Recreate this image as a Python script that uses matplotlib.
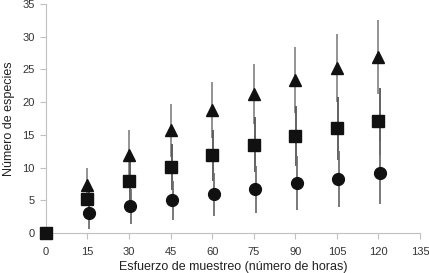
import numpy as np
import matplotlib
matplotlib.use("Agg")
import matplotlib.pyplot as plt

plt.rcParams['font.family'] = ['Liberation Sans', 'DejaVu Sans']

# ---------------------------------------------------------------------------
# Data
#
hours = [15, 30, 45, 60, 75, 90, 105, 120]
tri_mean = [7.4, 12.0, 15.7, 18.8, 21.3, 23.4, 25.3, 26.9]
tri_err = [2.5, 3.7, 4.1, 4.3, 4.6, 5.1, 5.2, 5.6]
sq_hours = [0, 15, 30, 45, 60, 75, 90, 105, 120]
sq_mean = [0, 5.2, 7.9, 10.1, 11.9, 13.5, 14.8, 16.0, 17.1]
sq_err = [0, 2.0, 3.0, 3.5, 3.9, 4.2, 4.6, 4.8, 5.1]
ci_mean = [3.0, 4.1, 5.0, 5.9, 6.7, 7.6, 8.3, 9.2]
ci_err = [2.4, 2.7, 3.0, 3.3, 3.6, 4.1, 4.3, 4.8]

x_ticks = [0, 15, 30, 45, 60, 75, 90, 105, 120, 135]
y_ticks = [0, 5, 10, 15, 20, 25, 30, 35]

# ---------------------------------------------------------------------------
# Plot
#
fig = plt.figure(figsize=(4.29, 2.73), dpi=100)
ax = fig.add_axes([0.107, 0.1465, 0.872, 0.8385])

h = np.array(hours, dtype=float)
hs = np.array(sq_hours, dtype=float)

# error bars, each series shifted a hair like in the original
ax.errorbar(h, tri_mean, yerr=tri_err, fmt='none', ecolor='#8a8a8a',
            elinewidth=1.3, capsize=0, zorder=2)
ax.errorbar(hs[1:] + 0.4, sq_mean[1:], yerr=sq_err[1:], fmt='none',
            ecolor='#555555', elinewidth=1.3, capsize=0, zorder=2)
ax.errorbar(h + 0.7, ci_mean, yerr=ci_err, fmt='none', ecolor='#6e6e6e',
            elinewidth=1.3, capsize=0, zorder=2)

ax.plot(h, tri_mean, '^', color='#111111', markersize=8, zorder=3,
        clip_on=False)
ax.plot(hs, sq_mean, 's', color='#111111', markersize=8, zorder=3,
        clip_on=False)
ax.plot(h + 0.5, ci_mean, 'o', color='#111111', markersize=8.5, zorder=3,
        clip_on=False)

ax.set_xlim(0, 135)
ax.set_ylim(0, 35)
ax.set_xticks(x_ticks)
ax.set_yticks(y_ticks)

for side in ['top', 'right']:
    ax.spines[side].set_visible(False)
for side in ['left', 'bottom']:
    ax.spines[side].set_color('#c0c0c0')
    ax.spines[side].set_linewidth(0.8)
ax.tick_params(colors='#c0c0c0', labelcolor='#333333', labelsize=8,
               length=4, width=0.8, pad=6)
ax.tick_params(axis='y', pad=4)

ax.set_xlabel('Esfuerzo de muestreo (número de horas)', fontsize=9,
              color='#222222', labelpad=3)
ax.set_ylabel('Número de especies', fontsize=9, color='#222222',
              labelpad=5)

fig.savefig('out.png', dpi=100)
